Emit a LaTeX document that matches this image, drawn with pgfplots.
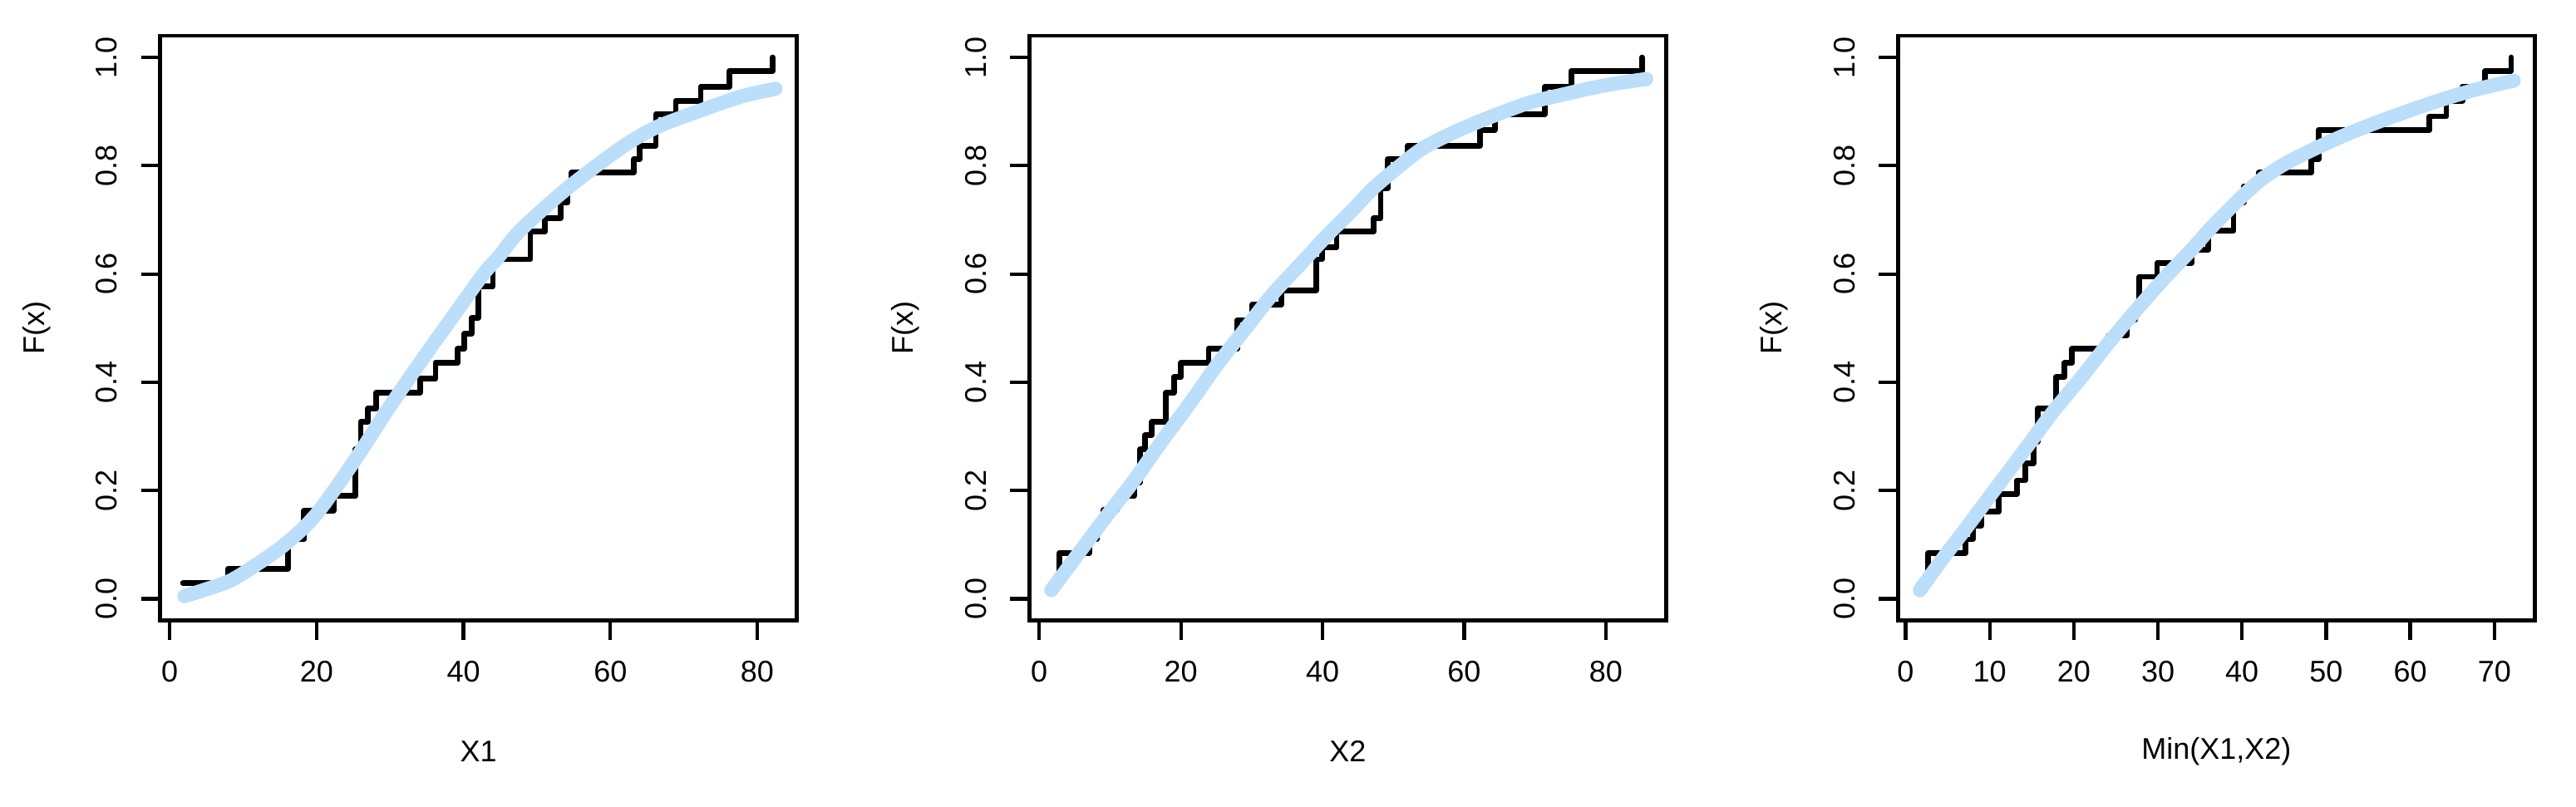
\documentclass[border=0pt]{standalone}
\usepackage{fontspec}
\setmainfont{Liberation Sans}
\usepackage{pgfplots}
\pgfplotsset{compat=1.18}
\definecolor{fitblue}{RGB}{187,222,251}
\pgfplotsset{
  rpanel/.style={
    scale only axis, width=153.2pt, height=140.74pt,
    ymin=-0.04, ymax=1.04,
    ytick={0,0.2,0.4,0.6,0.8,1},
    yticklabels={0.0,0.2,0.4,0.6,0.8,1.0},
    axis line style={line width=0.95pt},
    tick align=outside, xtick pos=left, ytick pos=left,
    major tick length=4.6pt,
    major tick style={black, line width=0.85pt},
    tick label style={font=\fontsize{7.2}{8}\selectfont},
    /pgf/number format/assume math mode=true,
    xticklabel style={anchor=center, yshift=-7.7pt},
    yticklabel style={anchor=center, xshift=-8.3pt, rotate=90},
    every axis x label/.style={at={(axis description cs:0.5,0)}, anchor=center, yshift=-31.4pt, font=\fontsize{7.2}{8}\selectfont},
    every axis y label/.style={at={(axis description cs:0,0.5)}, anchor=center, xshift=-29.8pt, rotate=90, font=\fontsize{7.2}{8}\selectfont},
    ylabel={F(x)},
  },
  ecdf/.style={black, line width=1.35pt, const plot, line cap=round, line join=round, no marks},
  fit/.style={fitblue, line width=3.4pt, smooth, tension=0.5, line cap=round, line join=round, no marks},
}
\begin{document}
\begin{tikzpicture}
\path[use as bounding box] (0,0) rectangle (619.8pt,194.2pt);
% Panel 1
\begin{axis}[rpanel, at={(38.54pt,44.86pt)}, anchor=south west,
  xmin=-1.3, xmax=85.4, xtick={0,20,40,60,80}, xlabel={X1}]
\addplot[ecdf] coordinates {
(1.8,0.029) (8.0,0.056) (16.1,0.110) (18.3,0.163) (22.3,0.190) (25.3,0.276)
(26.0,0.327) (27.0,0.352) (28.1,0.381) (34.1,0.407) (36.2,0.436) (39.2,0.462)
(40.1,0.490) (41.1,0.519) (42.0,0.577) (44.0,0.627) (49.1,0.678) (51.1,0.703)
(53.2,0.732) (54.2,0.758) (54.7,0.787) (63.2,0.812) (64.0,0.837) (66.2,0.895)
(68.9,0.920) (72.3,0.946) (76.2,0.975) (82.1,1.0)};
\addplot[fit] coordinates {
(2,0.005) (5,0.018) (8.3,0.034) (12,0.065) (15.9,0.103) (20,0.157) (25.3,0.258)
(29.8,0.352) (35,0.454) (38.8,0.526) (42.6,0.598) (44.8,0.632) (47.7,0.68)
(53.4,0.75) (59.1,0.81) (62.8,0.845) (66.6,0.873) (72.3,0.902) (77.9,0.928) (82.5,0.942)};
\end{axis}
% Panel 2
\begin{axis}[rpanel, at={(247.66pt,44.86pt)}, anchor=south west,
  xmin=-1.4, xmax=88.5, xtick={0,20,40,60,80}, xlabel={X2}]
\addplot[ecdf] coordinates {
(1.7,0.027) (2.85,0.085) (7.1,0.110) (8.1,0.135) (9.1,0.164) (11.0,0.190)
(13.4,0.215) (14.2,0.276) (14.9,0.302) (15.9,0.327) (17.9,0.381) (19.0,0.410)
(20.0,0.436) (23.9,0.462) (28.0,0.515) (30.1,0.544) (34.2,0.570) (39.1,0.627)
(39.9,0.649) (42.0,0.678) (47.25,0.703) (48.2,0.758) (49.2,0.812) (52.0,0.837)
(62.2,0.866) (64.3,0.895) (71.4,0.946) (75.1,0.975) (85.1,1.0)};
\addplot[fit] coordinates {
(1.7,0.016) (5.6,0.085) (9.5,0.153) (13.4,0.219) (17.3,0.291) (21.2,0.36)
(25.1,0.432) (29,0.497) (32.9,0.562) (36.8,0.617) (40.7,0.672) (44,0.715)
(46.9,0.755) (50,0.79) (53.9,0.83) (57.8,0.857) (61.8,0.88) (65.7,0.9)
(69.6,0.918) (73.5,0.93) (77.5,0.942) (81.5,0.952) (85.7,0.96)};
\end{axis}
% Panel 3
\begin{axis}[rpanel, at={(456.66pt,44.86pt)}, anchor=south west,
  xmin=-0.9, xmax=74.8, xtick={0,10,20,30,40,50,60,70}, xlabel={Min(X1,X2)}]
\addplot[ecdf] coordinates {
(1.7,0.027) (2.7,0.085) (7.15,0.110) (8.0,0.135) (9.0,0.161) (11.1,0.193)
(13.25,0.219) (14.2,0.250) (15.2,0.290) (15.7,0.352) (17.9,0.410) (18.9,0.436)
(19.8,0.462) (24.1,0.486) (26.3,0.515) (27.3,0.540) (27.8,0.595) (29.9,0.620)
(34.0,0.645) (36.0,0.680) (39.0,0.732) (40.2,0.762) (42.0,0.787) (48.25,0.812)
(49.1,0.866) (62.3,0.891) (64.3,0.920) (66.2,0.946) (68.9,0.975) (72.0,1.0)};
\addplot[fit] coordinates {
(1.7,0.016) (4.4,0.074) (7.6,0.139) (10.9,0.208) (14.2,0.276) (17.5,0.345)
(20.8,0.407) (24.1,0.472) (27.4,0.533) (30.7,0.591) (34,0.645) (36,0.68)
(38,0.712) (40,0.743) (42,0.771) (44,0.793) (46,0.811) (48.6,0.831)
(52,0.855) (55.2,0.875) (58.5,0.894) (61.8,0.912) (65,0.928) (68.4,0.943) (72.3,0.957)};
\end{axis}
\end{tikzpicture}
\end{document}
